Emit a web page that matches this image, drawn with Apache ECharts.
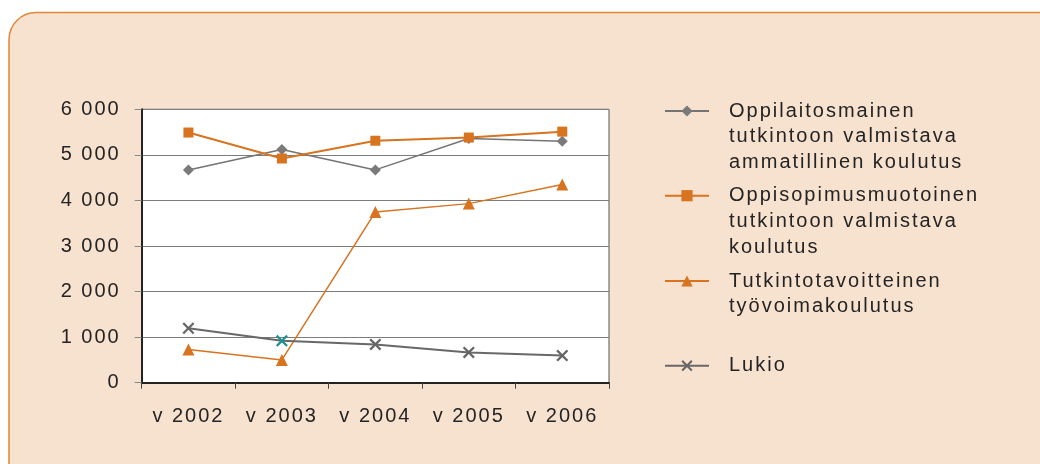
<!DOCTYPE html>
<html>
<head>
<meta charset="utf-8">
<script src="https://cdn.jsdelivr.net/npm/echarts@6/dist/echarts.min.js"></script>
<style>
html,body{margin:0;padding:0;background:#fff;}
#chart{width:1040px;height:464px;}
</style>
</head>
<body>
<div id="chart"></div>
<script>
// widen letter spacing of canvas text (reference uses tracked type)
(function(){
  var P = CanvasRenderingContext2D.prototype;
  if ('letterSpacing' in P) {
    var d = Object.getOwnPropertyDescriptor(P, 'font');
    Object.defineProperty(P, 'font', {
      configurable: true,
      get: function(){ return d.get.call(this); },
      set: function(v){ d.set.call(this, v); this.letterSpacing = '2px'; }
    });
  }
})();

var categories = ['v 2002', 'v 2003', 'v 2004', 'v 2005', 'v 2006'];
var seriesNames = [
  'Oppilaitosmainen\ntutkintoon valmistava\nammatillinen koulutus',
  'Oppisopimusmuotoinen\ntutkintoon valmistava\nkoulutus',
  'Tutkintotavoitteinen\ntyövoimakoulutus',
  'Lukio'
];
var oppilaitos = [4670, 5120, 4670, 5360, 5300];
var oppisopimus = [5490, 4920, 5310, 5380, 5510];
var tyovoima = [730, 500, 3745, 3930, 4350];
var lukio = [1195, 920, 840, 665, 595];
var yTickLabels = ['0', '1 000', '2 000', '3 000', '4 000', '5 000', '6 000'];

var FONT = 'Liberation Sans';
var FS = 20;
var TXT = '#242424';
var ORANGE = '#d8731f';
var GRAY = '#7a7a7a';
var XPATH = 'path://M0,1.6L1.6,0L6,4.4L10.4,0L12,1.6L7.6,6L12,10.4L10.4,12L6,7.6L1.6,12L0,10.4L4.4,6Z';

var L = 25.7;
function legendFor(i, iconY) {
  var lines = seriesNames[i].split('\n').length;
  return {
    data: [seriesNames[i]],
    left: 664,
    top: iconY - (2 * lines - 1) * L / 2,
    padding: 0,
    itemWidth: 44,
    itemHeight: 14,
    selectedMode: false,
    formatter: function (name) {
      // leading blank lines keep the first text line level with the icon
      return new Array(lines).join('\n') + name;
    },
    textStyle: {
      fontFamily: FONT, fontSize: FS, color: TXT, lineHeight: L,
      padding: [0, 0, 0, 15],
      backgroundColor: 'rgba(0,0,0,0)'
    }
  };
}

var chart = echarts.init(document.getElementById('chart'), null, {renderer: 'canvas'});
chart.setOption({
  animation: false,
  backgroundColor: '#ffffff',
  graphic: [{
    type: 'rect', z: -100, silent: true,
    shape: {x: 9, y: 12.5, width: 1100, height: 560, r: 27},
    style: {fill: '#f7e1cf', stroke: '#e0873a', lineWidth: 1.5}
  }],
  grid: {
    left: 141.7, right: 431, top: 109.3, bottom: 81.3,
    show: true, backgroundColor: '#ffffff', borderColor: '#555', borderWidth: 1
  },
  legend: [
    legendFor(0, 111),
    legendFor(1, 195.7),
    legendFor(2, 281),
    legendFor(3, 365.7)
  ],
  xAxis: {
    type: 'category',
    data: categories,
    boundaryGap: true,
    axisLine: {show: true, lineStyle: {color: '#222', width: 2}},
    axisTick: {show: true, length: 6, lineStyle: {color: '#444', width: 1}},
    axisLabel: {fontFamily: FONT, fontSize: FS, color: TXT, margin: 23, interval: 0}
  },
  yAxis: {
    type: 'value',
    min: 0, max: 6000, interval: 1000,
    axisLine: {show: true, lineStyle: {color: '#222', width: 2}},
    axisTick: {show: true, length: 7, lineStyle: {color: '#888', width: 1}},
    axisLabel: {
      fontFamily: FONT, fontSize: FS, color: TXT, margin: 21,
      formatter: function (v) { return yTickLabels[Math.round(v / 1000)]; }
    },
    splitLine: {show: true, lineStyle: {color: '#7c7c7c', width: 1.2}}
  },
  series: [
    {
      name: seriesNames[0], type: 'line', data: oppilaitos,
      symbol: 'diamond', symbolSize: 11, showAllSymbol: true,
      itemStyle: {color: GRAY},
      lineStyle: {color: '#747474', width: 1.5}
    },
    {
      name: seriesNames[1], type: 'line', data: oppisopimus,
      symbol: 'rect', symbolSize: 10, showAllSymbol: true,
      itemStyle: {color: ORANGE},
      lineStyle: {color: ORANGE, width: 2}
    },
    {
      name: seriesNames[2], type: 'line', data: tyovoima,
      symbol: 'triangle', symbolSize: 12, showAllSymbol: true,
      itemStyle: {color: ORANGE},
      lineStyle: {color: ORANGE, width: 1.5}
    },
    {
      name: seriesNames[3], type: 'line',
      data: lukio.map(function (v, i) {
        return i === 1 ? {value: v, itemStyle: {color: '#1f9090'}} : v;
      }),
      symbol: XPATH, symbolSize: 12, showAllSymbol: true,
      itemStyle: {color: '#666'},
      lineStyle: {color: '#686868', width: 2}
    }
  ]
});
</script>
</body>
</html>
